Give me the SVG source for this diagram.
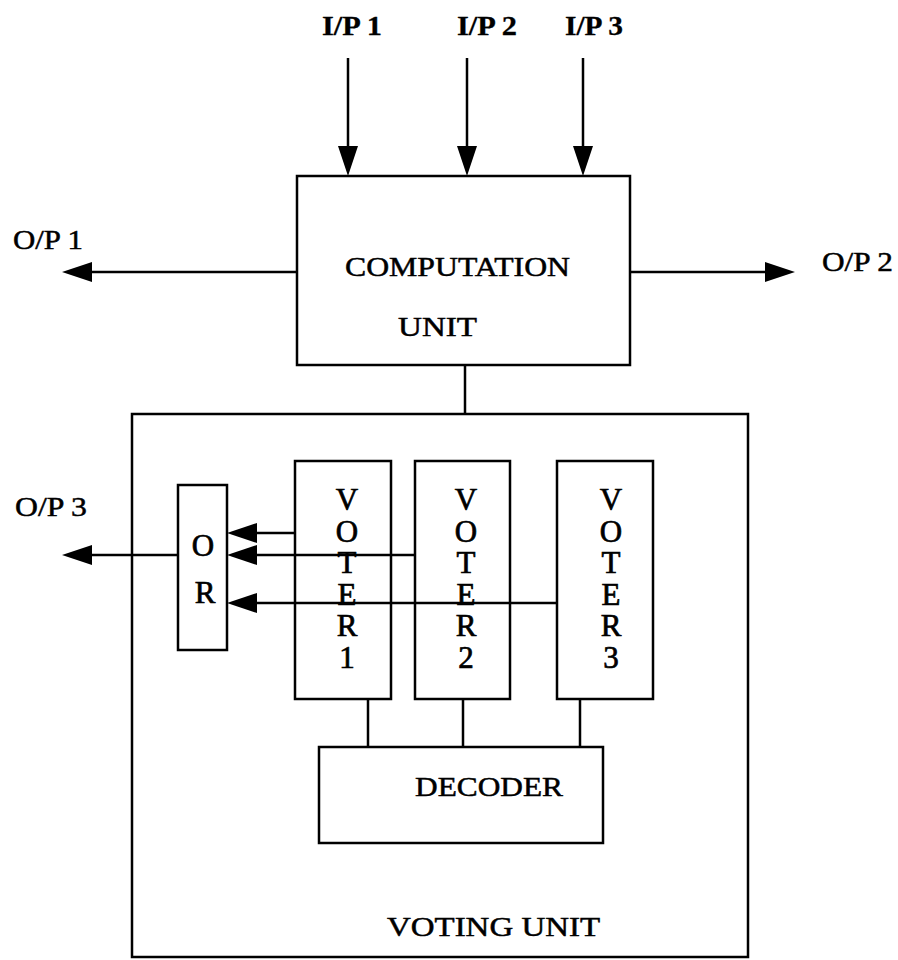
<svg xmlns="http://www.w3.org/2000/svg" width="898" height="960" viewBox="0 0 898 960">
<style>
.box{fill:none;stroke:#000;stroke-width:2.5}
.ln{fill:none;stroke:#000;stroke-width:2.5}
.t{font-family:"Liberation Serif","Times New Roman",serif;fill:#000;font-size:28px;stroke:#000;stroke-width:0.5}
.b{font-weight:bold;stroke-width:0.3}
.v{font-family:"Liberation Serif","Times New Roman",serif;fill:#000;font-size:31px;text-anchor:middle;stroke:#000;stroke-width:0.7}
</style>
<defs>
<marker id="ah" viewBox="0 0 30 20" refX="0" refY="10" markerWidth="30" markerHeight="20" markerUnits="userSpaceOnUse" orient="auto">
<path d="M0,0 L30,10 L0,20 Z" fill="#000"/>
</marker>
</defs>
<rect width="898" height="960" fill="#fff"/>
<g id="labels">
<text class="t b" x="322" y="35" textLength="60" lengthAdjust="spacingAndGlyphs">I/P 1</text>
<text class="t b" x="457" y="35" textLength="60" lengthAdjust="spacingAndGlyphs">I/P 2</text>
<text class="t b" x="565" y="35" textLength="58" lengthAdjust="spacingAndGlyphs">I/P 3</text>
<text class="t" x="13" y="249" textLength="70" lengthAdjust="spacingAndGlyphs">O/P 1</text>
<text class="t" x="822" y="271" textLength="71" lengthAdjust="spacingAndGlyphs">O/P 2</text>
<text class="t" x="15" y="516" textLength="72" lengthAdjust="spacingAndGlyphs">O/P 3</text>
</g>
<g id="computation">
<rect class="box" x="297" y="176" width="333" height="189"/>
<text class="t" x="345" y="276" textLength="225" lengthAdjust="spacingAndGlyphs">COMPUTATION</text>
<text class="t" x="398" y="336" textLength="79" lengthAdjust="spacingAndGlyphs">UNIT</text>
</g>
<g id="voting">
<rect class="box" x="132" y="414" width="616" height="543"/>
<text class="t" x="387" y="936" font-size="30" textLength="213" lengthAdjust="spacingAndGlyphs">VOTING UNIT</text>
</g>
<g id="or">
<rect class="box" x="178" y="485" width="49" height="165"/>
<text class="v" x="203" y="556">O</text>
<text class="v" x="205" y="603">R</text>
</g>
<g id="voter1">
<rect class="box" x="295" y="461" width="96" height="238"/>
<text class="v" x="347"><tspan x="347" y="510">V</tspan><tspan x="347" y="541.6">O</tspan><tspan x="347" y="573.2">T</tspan><tspan x="347" y="604.8">E</tspan><tspan x="347" y="636.4">R</tspan><tspan x="347" y="668">1</tspan></text>
</g>
<g id="voter2">
<rect class="box" x="415" y="461" width="95" height="238"/>
<text class="v" x="466"><tspan x="466" y="510">V</tspan><tspan x="466" y="541.6">O</tspan><tspan x="466" y="573.2">T</tspan><tspan x="466" y="604.8">E</tspan><tspan x="466" y="636.4">R</tspan><tspan x="466" y="668">2</tspan></text>
</g>
<g id="voter3">
<rect class="box" x="557" y="461" width="96" height="238"/>
<text class="v" x="611"><tspan x="611" y="510">V</tspan><tspan x="611" y="541.6">O</tspan><tspan x="611" y="573.2">T</tspan><tspan x="611" y="604.8">E</tspan><tspan x="611" y="636.4">R</tspan><tspan x="611" y="668">3</tspan></text>
</g>
<g id="decoder">
<rect class="box" x="319" y="747" width="284" height="96"/>
<text class="t" x="415" y="796" font-size="30" textLength="148" lengthAdjust="spacingAndGlyphs">DECODER</text>
</g>
<g id="connectors">
<line class="ln" x1="348" y1="58" x2="348" y2="146" marker-end="url(#ah)"/>
<line class="ln" x1="467" y1="58" x2="467" y2="146" marker-end="url(#ah)"/>
<line class="ln" x1="583" y1="58" x2="583" y2="146" marker-end="url(#ah)"/>
<line class="ln" x1="297" y1="272" x2="92" y2="272" marker-end="url(#ah)"/>
<line class="ln" x1="630" y1="272" x2="765" y2="272" marker-end="url(#ah)"/>
<line class="ln" x1="465" y1="365" x2="465" y2="414"/>
<line class="ln" x1="178" y1="555" x2="92" y2="555" marker-end="url(#ah)"/>
<line class="ln" x1="295" y1="533" x2="257" y2="533" marker-end="url(#ah)"/>
<line class="ln" x1="415" y1="555" x2="257" y2="555" marker-end="url(#ah)"/>
<line class="ln" x1="557" y1="603" x2="257" y2="603" marker-end="url(#ah)"/>
<line class="ln" x1="368" y1="699" x2="368" y2="747"/>
<line class="ln" x1="463" y1="699" x2="463" y2="747"/>
<line class="ln" x1="580" y1="699" x2="580" y2="747"/>
</g>
</svg>
